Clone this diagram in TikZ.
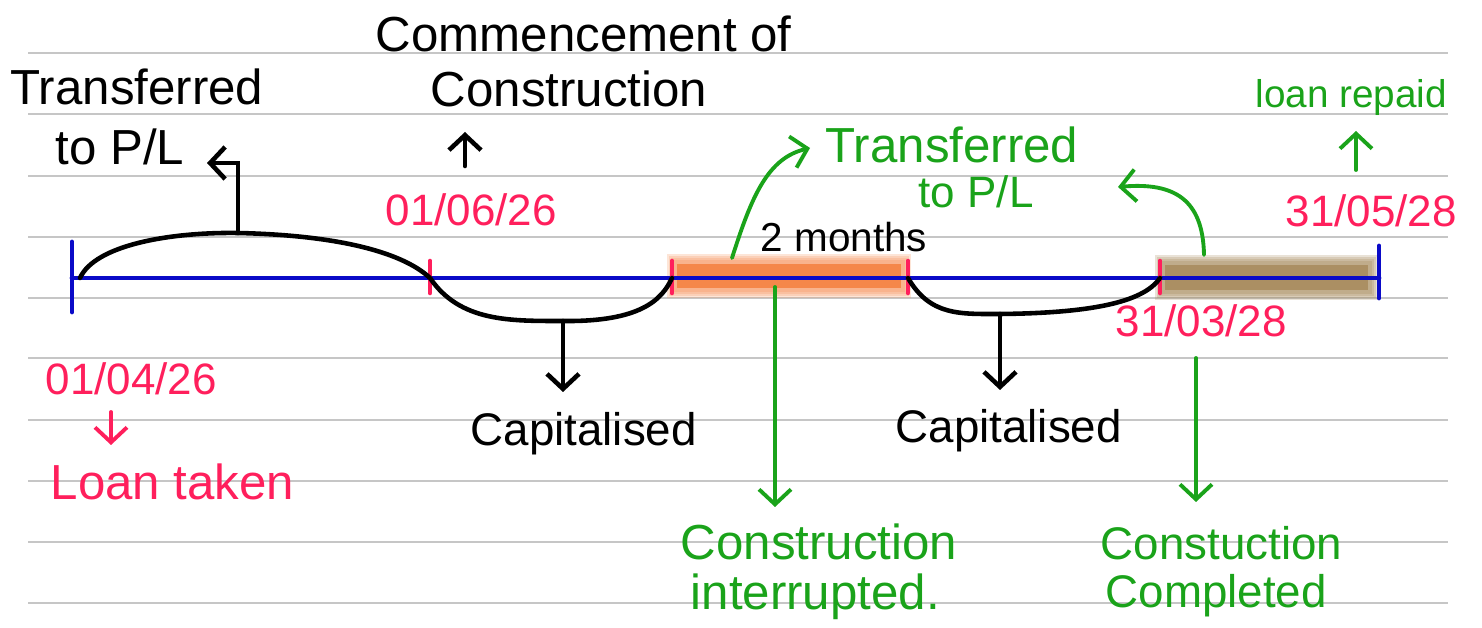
\documentclass[tikz,border=0pt]{standalone}
\usepackage{fontspec}
\setmainfont{Liberation Sans}
\usetikzlibrary{arrows.meta, calc}
\definecolor{AxisBlue}{HTML}{0A0AC8}
\definecolor{DateRed}{HTML}{FF1F5C}
\definecolor{PenGreen}{HTML}{1AA31A}
\definecolor{RuleGray}{HTML}{C6C6C6}
\definecolor{HiOrange}{HTML}{F5874A}
\definecolor{HiBrown}{HTML}{9C7B48}

\begin{document}
\begin{tikzpicture}[
    x=0.01cm, y=-0.01cm,
    rule/.style={RuleGray, line width=0.6pt},
    axis/.style={AxisBlue, line width=1.4pt, line cap=round},
    tick/.style={DateRed, line width=1.3pt, line cap=round},
    pen/.style={line width=1.3pt, line cap=round},
    arr/.style={pen, -{Straight Barb[length=1.5mm, width=3.2mm]}},
    garr/.style={arr, PenGreen, line width=1.1pt},
    rarr/.style={arr, DateRed, line width=1.1pt},
    note/.style={anchor=base west, inner sep=0pt, font=\fontsize{14}{16}\selectfont},
    capnote/.style={note, font=\fontsize{13}{15}\selectfont},
    date/.style={note, text=DateRed, font=\fontsize{12.5}{15}\selectfont},
    gnote/.style={note, text=PenGreen},
    gsmall/.style={gnote, font=\fontsize{11}{13}\selectfont},
  ]
    \useasboundingbox (0,0) rectangle (1482,628);

    % notebook lines
    \foreach \y in {53,114,176,237,298,358,420,481,542,603}
      \draw[rule] (28,\y) -- (1448,\y);

    % highlighted periods (soft edges)
    \foreach \d in {8,6,4,2}
      \fill[HiOrange, opacity=0.22] (675-\d,262-\d) rectangle (903+\d,290+\d);
    \fill[HiOrange] (677,264) rectangle (901,288);
    \foreach \d in {8,6,4,2}
      \fill[HiBrown, opacity=0.22] (1163-\d,263-\d) rectangle (1370+\d,292+\d);
    \fill[HiBrown!85!white] (1165,265) rectangle (1368,290);

    % timeline
    \coordinate (start) at (72,278);
    \coordinate (comm)  at (430,278);
    \coordinate (intr)  at (672,278);
    \coordinate (resu)  at (908,278);
    \coordinate (compl) at (1160,278);
    \coordinate (repay) at (1379,278);
    \draw[axis] (start) -- (repay);
    \draw[axis] ($(start)+(0,-36)$) -- ($(start)+(0,34)$);
    \draw[axis] ($(repay)+(0,-32)$) -- ($(repay)+(0,20)$);
    \foreach \p in {comm,intr,resu,compl}
      \draw[tick] ($(\p)+(0,-17)$) -- ($(\p)+(0,15)$);

    % brackets
    \draw[pen] ($(start)+(8,0)$) .. controls (95,245) and (170,232) .. (238,233) coordinate (hump)
      .. controls (330,235) and (400,250) .. (comm)
      .. controls (460,322) and (510,321) .. (563,321) coordinate (trough1)
      .. controls (640,322) and (662,300) .. (intr);
    \draw[pen] (resu) .. controls (930,316) and (960,314) .. (1000,314) coordinate (trough2)
      .. controls (1100,313) and (1145,300) .. (compl);

    % texts
    \node[note]  (commence) at (375,52)  {Commencement of};
    \node[note]  (constr)   at (430,107) {Construction};
    \node[note]  (trpl)     at (10,105)  {Transferred};
    \node[note]  (topl)     at (55,165)  {to P/L};
    \node[date]  (dcomm)    at (385,226) {01/06/26};
    \node[note, font=\fontsize{11.5}{13}\selectfont] (twom) at (760,252) {2 months};
    \node[gnote] (gtr)      at (825,163) {Transferred};
    \node[gnote, font=\fontsize{12.5}{15}\selectfont] (gtopl) at (918,208) {to P/L};
    \node[gsmall] (repaid)  at (1255,108) {loan repaid};
    \node[date]  (drepay)   at (1285,227) {31/05/28};
    \node[date]  (dcompl)   at (1115,337) {31/03/28};
    \node[date]  (dstart)   at (45,395)  {01/04/26};
    \node[date, font=\fontsize{14}{16}\selectfont] (taken) at (50,500) {Loan taken};
    \node[capnote] (cap1)   at (470,446) {Capitalised};
    \node[capnote] (cap2)   at (895,443) {Capitalised};
    \node[gnote] (intr1)    at (680,560) {Construction};
    \node[gnote] (intr2)    at (690,610) {interrupted.};
    \node[gnote, font=\fontsize{13}{15}\selectfont] (compl1) at (1100,560) {Constuction};
    \node[gnote, font=\fontsize{13}{15}\selectfont] (compl2) at (1105,608) {Completed};

    % arrow ends
    \coordinate (pltip)   at (207,163);
    \coordinate (commlow) at (465,166);
    \coordinate (commtip) at (465,132);
    \coordinate (cap1tip) at (563,392);
    \coordinate (cap2tip) at (1000,390);
    \coordinate (gfrom)   at (732,258);
    \coordinate (gtip)    at (810,148);
    \coordinate (intrtop) at (775,287);
    \coordinate (intrtip) at (775,507);
    \coordinate (bfrom)   at (1204,255);
    \coordinate (btip)    at (1118,187);
    \coordinate (compltop) at (1196,358);
    \coordinate (compltip) at (1196,502);
    \coordinate (replow)  at (1356,170);
    \coordinate (reptip)  at (1356,131);
    \coordinate (takentop) at (111,412);
    \coordinate (takentip) at (111,445);

    % arrows
    \draw[arr] (hump) |- (pltip);
    \draw[arr] (commlow) -- (commtip);
    \draw[arr] (trough1) -- (cap1tip);
    \draw[arr] (trough2) -- (cap2tip);
    \draw[garr] (gfrom) .. controls (752,195) and (768,158) .. (gtip);
    \draw[garr] (intrtop) -- (intrtip);
    \draw[garr] (bfrom) .. controls (1203,200) and (1175,182) .. (btip);
    \draw[garr] (compltop) -- (compltip);
    \draw[garr] (replow) -- (reptip);
    \draw[rarr] (takentop) -- (takentip);
  \end{tikzpicture}
\end{document}
